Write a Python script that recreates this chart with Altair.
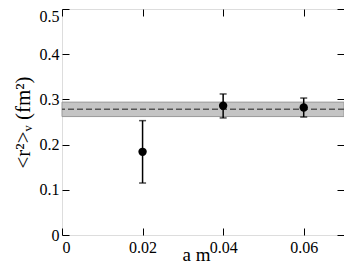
import altair as alt
import pandas as pd

am = [0.02, 0.04, 0.06]
r2 = [0.184, 0.286, 0.282]
r2_lo = [0.115, 0.259, 0.261]
r2_hi = [0.253, 0.312, 0.303]
band_lo = [0.262]
band_hi = [0.294]
band_mid = [0.278]
x_ticks = [0, 0.02, 0.04, 0.06]
y_ticks = [0, 0.1, 0.2, 0.3, 0.4, 0.5]

pts = pd.DataFrame({"am": am, "r2": r2, "lo": r2_lo, "hi": r2_hi})
band = pd.DataFrame({"lo": band_lo, "hi": band_hi, "mid": band_mid})

FONT = "Liberation Serif, Times New Roman, serif"
xs = alt.Scale(domain=[0, 0.07], nice=False, zero=False)
ys = alt.Scale(domain=[0, 0.5], nice=False)


def tick_axis(orient, values):
    return alt.Axis(orient=orient, values=values, labels=False, domain=False,
                    ticks=True, tickSize=7, offset=-7, title=None, grid=False,
                    tickColor="black", tickWidth=1)


y_label_axis = alt.Axis(orient="left", values=y_ticks, format=".1~f", ticks=False,
                        domain=False, grid=False, labelFont=FONT, labelFontSize=16,
                        labelColor="black", labelPadding=3,
                        labelOffset={"condition": {"test": "datum.value == 0.5", "value": 7}, "value": 0},
                        title="<r²>ᵥ (fm²)", titleFont=FONT, titleFontSize=21,
                        titleFontWeight="normal", titleColor="black", titlePadding=6)
x_label_axis = alt.Axis(orient="bottom", values=x_ticks, format=".2~f", ticks=False,
                        domain=False, grid=False, labelFont=FONT, labelFontSize=16,
                        labelColor="black", labelPadding=4,
                        title="a m", titleFont=FONT, titleFontSize=19,
                        titleFontWeight="normal", titleColor="black",
                        titleBaseline="alphabetic", titleY=25, titleX=134)

band_layer = alt.Chart(band).mark_rect(color="#c4c4c4", stroke="#9a9a9a", strokeWidth=1).encode(
    y=alt.Y("lo:Q", scale=ys, axis=y_label_axis),
    y2="hi:Q",
)
mid_layer = alt.Chart(band).mark_rule(color="#555555", strokeDash=[6, 3], strokeWidth=1.5).encode(
    y=alt.Y("mid:Q", scale=ys, axis=tick_axis("left", y_ticks)),
)
err_layer = alt.Chart(pts).mark_rule(color="black", strokeWidth=1.5).encode(
    x=alt.X("am:Q", scale=xs, axis=x_label_axis),
    y=alt.Y("lo:Q", scale=ys, axis=tick_axis("right", y_ticks)),
    y2="hi:Q",
)
cap_lo = alt.Chart(pts).mark_tick(color="black", orient="horizontal", size=7, thickness=1.5).encode(
    x=alt.X("am:Q", scale=xs, axis=tick_axis("bottom", x_ticks)),
    y=alt.Y("lo:Q", scale=ys, axis=None),
)
cap_hi = alt.Chart(pts).mark_tick(color="black", orient="horizontal", size=7, thickness=1.5).encode(
    x=alt.X("am:Q", scale=xs, axis=tick_axis("top", x_ticks)),
    y=alt.Y("hi:Q", scale=ys, axis=None),
)
pt_layer = alt.Chart(pts).mark_circle(color="black", opacity=1, size=70).encode(
    x=alt.X("am:Q", scale=xs, axis=None),
    y=alt.Y("r2:Q", scale=ys, axis=None),
)

chart = alt.layer(band_layer, mid_layer, err_layer, cap_lo, cap_hi, pt_layer).resolve_axis(
    x="independent", y="independent"
).properties(
    width=282, height=226,
    autosize=alt.AutoSizeParams(type="none"),
    padding={"left": 54, "top": 1, "right": 0, "bottom": 30},
).configure_view(stroke="black", strokeWidth=1.2).configure(background="white")

chart.save("out.html", embed_options={"renderer": "svg", "actions": False})
